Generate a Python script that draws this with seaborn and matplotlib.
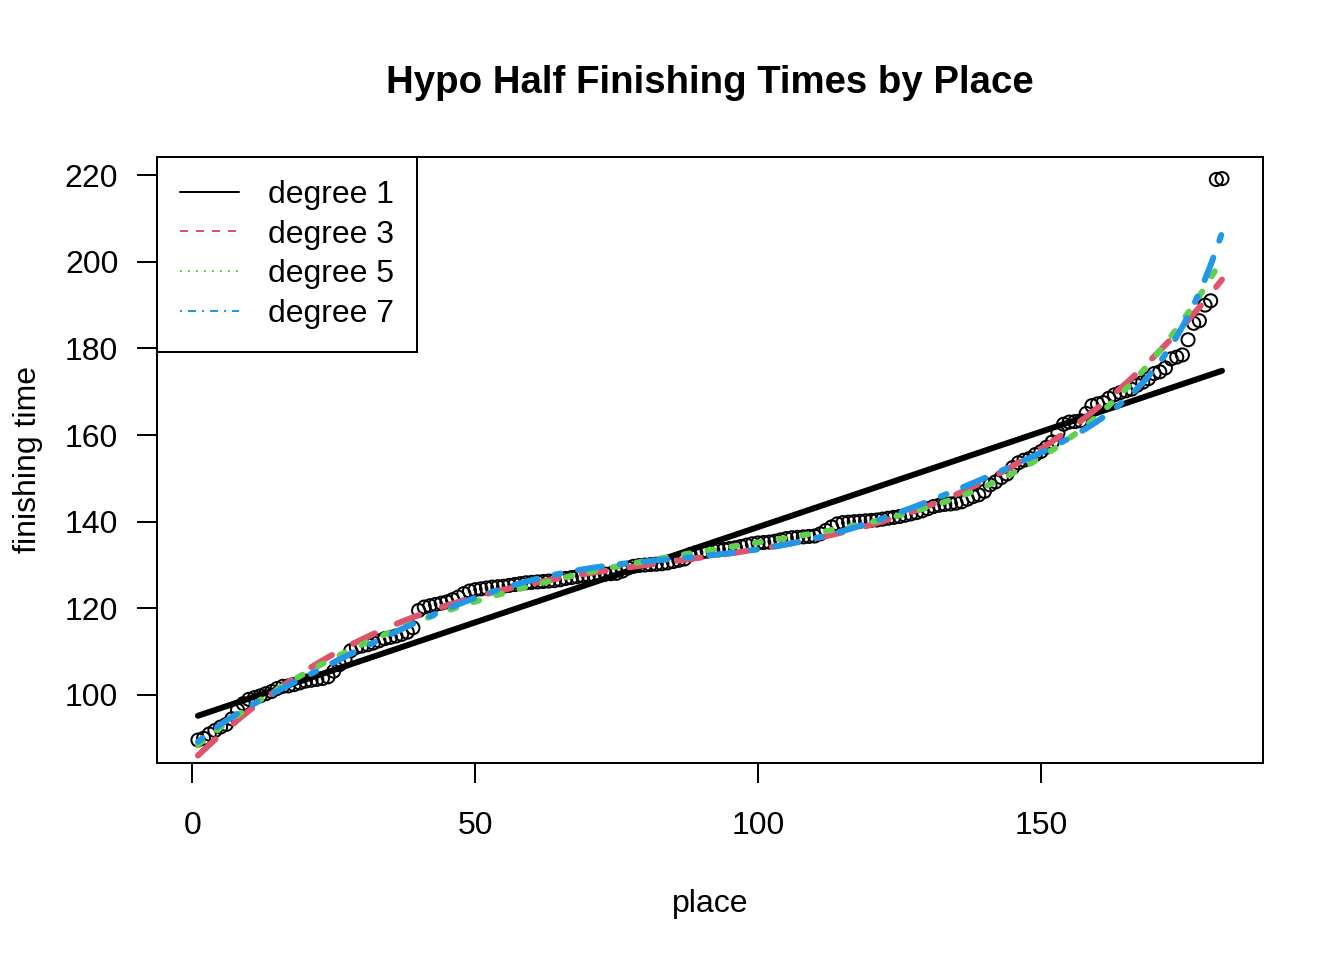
import numpy as np
import pandas as pd
import matplotlib
matplotlib.use("Agg")
import matplotlib.pyplot as plt
from matplotlib.lines import Line2D
import seaborn as sns

# finishing times, place 1..182
finish_times = [
    89.6, 90.0, 91.0, 91.8, 92.6, 93.2, 94.5, 96.5, 98.0, 99.0,
    99.4, 99.8, 100.3, 100.8, 101.5, 102.0, 102.1, 102.4, 102.8, 103.2,
    103.4, 103.6, 103.8, 104.2, 105.5, 107.0, 108.3, 110.2, 111.0, 111.3,
    111.6, 112.0, 112.5, 113.0, 113.3, 113.6, 114.0, 114.5, 115.5, 119.5,
    120.3, 120.6, 120.9, 121.2, 121.5, 122.0, 122.6, 123.4, 124.0, 124.3,
    124.5, 124.7, 124.9, 125.0, 125.1, 125.3, 125.5, 125.7, 125.9, 126.0,
    126.1, 126.2, 126.3, 126.4, 126.6, 126.9, 127.1, 127.3, 127.5, 127.6,
    127.7, 127.8, 127.9, 128.0, 128.1, 128.6, 129.3, 129.7, 129.9, 130.0,
    130.1, 130.2, 130.3, 130.5, 130.8, 131.1, 131.4, 132.4, 132.8, 133.0,
    133.2, 133.4, 133.5, 133.6, 133.8, 134.0, 134.3, 134.6, 134.9, 135.1,
    135.2, 135.3, 135.5, 135.8, 136.1, 136.3, 136.4, 136.5, 136.6, 136.7,
    137.2, 138.0, 138.8, 139.5, 139.8, 139.9, 140.0, 140.1, 140.2, 140.3,
    140.4, 140.6, 140.8, 141.0, 141.2, 141.5, 141.8, 142.1, 142.5, 143.0,
    143.5, 143.8, 144.0, 144.1, 144.3, 144.6, 145.2, 145.8, 146.2, 147.0,
    148.5, 149.2, 150.2, 151.0, 152.5, 153.6, 154.2, 154.6, 155.5, 156.2,
    157.2, 158.4, 160.5, 162.5, 163.0, 163.1, 163.3, 165.0, 166.8, 167.2,
    167.5, 168.5, 169.3, 169.8, 170.2, 170.6, 171.5, 172.2, 173.0, 174.2,
    174.6, 175.5, 177.6, 178.0, 178.5, 182.0, 185.8, 186.4, 190.0, 191.0,
    219.0, 219.2,
]
places = list(range(1, len(finish_times) + 1))

degrees = [1, 3, 5, 7]
fit_colors = ["black", "#DF536B", "#61D04F", "#2297E6"]
fit_dashes = [None, (4, 4), (1, 3), (1, 3, 4, 3)]

df = pd.DataFrame({"place": places, "time": finish_times})

sns.set_style("ticks", {"axes.edgecolor": "black", "xtick.color": "black",
                        "ytick.color": "black", "text.color": "black",
                        "axes.labelcolor": "black"})
plt.rcParams["font.family"] = ["Liberation Sans", "DejaVu Sans"]

fig = plt.figure(figsize=(7, 5), dpi=192)
ax = fig.add_axes([0.1168, 0.2052, 0.8229, 0.6313])

sns.scatterplot(data=df, x="place", y="time", ax=ax, color="black",
                facecolor="none", edgecolor="black", s=24, linewidth=0.75,
                legend=False, zorder=2)

# polynomial fits, like lm(time ~ poly(place, d))
for deg, col, dash in zip(degrees, fit_colors, fit_dashes):
    poly = np.polynomial.Polynomial.fit(df["place"], df["time"], deg)
    df["fit%d" % deg] = poly(df["place"])
    ls = "-" if dash is None else (0, dash)
    sns.lineplot(data=df, x="place", y="fit%d" % deg, ax=ax, color=col,
                 linewidth=2.25, linestyle=ls, solid_capstyle="round",
                 dash_capstyle="round", legend=False, zorder=3)

ax.set_xlim(-6.24, 189.24)
ax.set_ylim(84.3, 224.2)
ax.set_xticks([0, 50, 100, 150])
ax.set_yticks([100, 120, 140, 160, 180, 200, 220])
for sp in ax.spines.values():
    sp.set_linewidth(0.75)
    sp.set_color("black")
ax.tick_params(axis="both", direction="out", length=7.5, width=0.75,
               labelsize=12, colors="black")
ax.tick_params(axis="x", pad=10.5)
ax.tick_params(axis="y", pad=7)

ax.set_xlabel("place", fontsize=12, labelpad=18)
ax.set_ylabel("finishing time", fontsize=12, labelpad=8)
ax.set_title("Hypo Half Finishing Times by Place", fontsize=14.4,
             fontweight="bold", pad=24)

handles = []
for deg, col, dash in zip(degrees, fit_colors, fit_dashes):
    ls = "-" if dash is None else (0, dash)
    handles.append(Line2D([], [], color=col, linewidth=0.75, linestyle=ls))
leg = ax.legend(handles, ["degree %d" % d for d in degrees], loc="upper left",
                fontsize=12, frameon=True, fancybox=False, framealpha=1,
                borderaxespad=0, borderpad=0.72, handlelength=1.85,
                handletextpad=0.9, labelspacing=0.3)
leg.get_frame().set_edgecolor("black")
leg.get_frame().set_linewidth(0.75)

fig.savefig("out.png", dpi=192)
